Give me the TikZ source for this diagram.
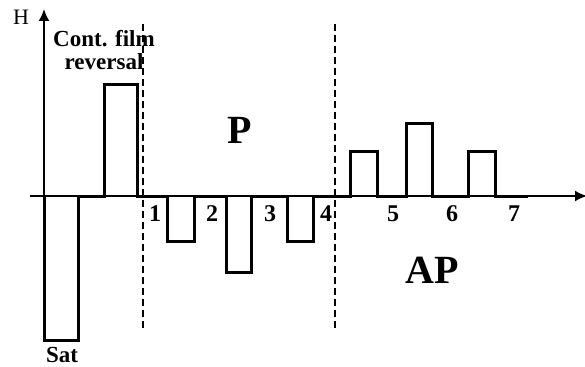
\documentclass[tikz,border=0pt]{standalone}
\usepackage{fontspec}
\setmainfont{Liberation Serif}
\usetikzlibrary{arrows.meta,positioning}

\begin{document}
\begin{tikzpicture}[x=1pt,y=-1pt,
        axis/.style={line width=1.8pt,-{Latex[length=12pt,width=11pt]}},
        trace/.style={line width=3pt,line join=miter},
        border/.style={line width=1.5pt,dash pattern=on 7pt off 4pt},
        num/.style={font=\fontsize{24}{24}\selectfont\bfseries,inner sep=0pt},
        region/.style={font=\fontsize{40}{40}\selectfont\bfseries,inner sep=0pt}]
        \useasboundingbox (0,0) rectangle (585,366);
        % axes
        \coordinate (o) at (44,196);
        \draw[axis] (30,196) -- (587,196);
        \draw[axis] (44,212) -- (44,9);
        \node[font=\fontsize{22}{22}\selectfont,inner sep=0pt] (h) at (21,17) {H};
        \node[font=\fontsize{22}{22}\selectfont,inner sep=0pt] (t) at (589,213) {t};
        % field sequence
        \draw[trace] (44,196) -- (44,340) -- (78,340) -- (78,196) -- (104,196) -- (104,85) -- (137,85) -- (137,196)
            -- (167,196) -- (167,241) -- (194,241) -- (194,196) -- (226,196) -- (226,272) -- (251,272) -- (251,196)
            -- (287,196) -- (287,241) -- (313,241) -- (313,196) -- (350,196) -- (350,151) -- (377,151) -- (377,196)
            -- (406,196) -- (406,124) -- (432,124) -- (432,196) -- (468,196) -- (468,151) -- (495,151) -- (495,196)
            -- (528,196);
        % regions
        \draw[border] (143,24) -- (143,330);
        \draw[border] (335,24) -- (335,330);
        \node[region] (p) at (240,130) {P};
        \node[region] (ap) at (432,270) {AP};
        \node[num,align=center,font=\fontsize{23}{23}\selectfont\bfseries] (rev) at (104,50) {Cont. film\\reversal};
        \node[num,font=\fontsize{23}{23}\selectfont\bfseries] (sat) at (62,355) {Sat};
        \foreach \x/\n in {155/1,212/2,270/3,326/4,393/5,452/6,514/7}
            \node[num] (n\n) at (\x,214) {\n};
\end{tikzpicture}
\end{document}
